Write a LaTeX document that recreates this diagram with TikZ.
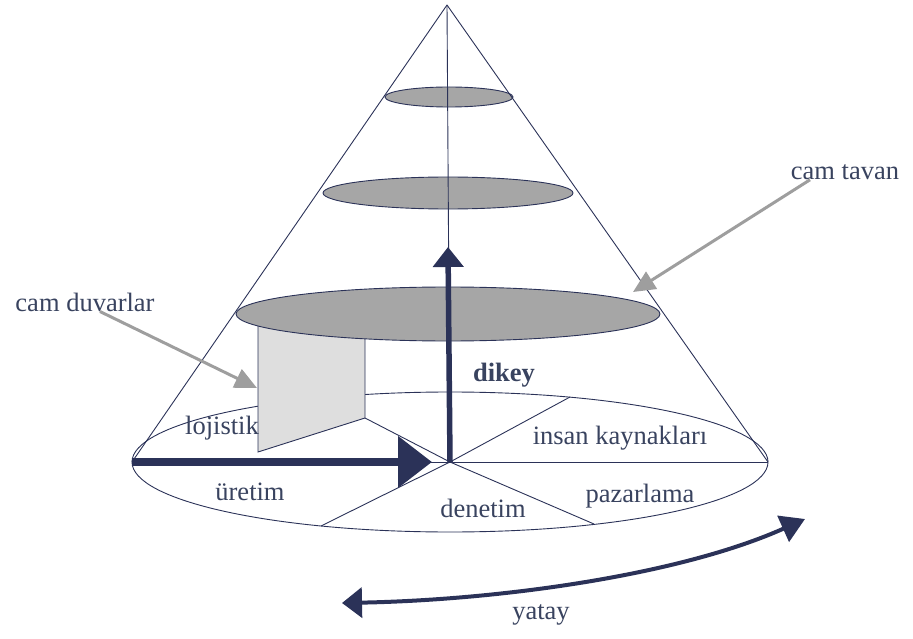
\documentclass[tikz,border=0pt]{standalone}
\usepackage{fontspec}
\setmainfont{Liberation Serif}
\usetikzlibrary{arrows.meta}
\definecolor{navy}{HTML}{2B3258}
\definecolor{inkblue}{HTML}{39435F}
\tikzset{thinline/.style={draw=navy,line width=0.9pt},
  slab/.style={thinline,fill=black!35},
  glasswall/.style={thinline,fill=black!13},
  bigarrow/.style={draw=navy,line width=5.5pt,-{Triangle[length=20pt,width=30pt]}},
  harrow/.style={bigarrow,line width=8pt,-{Triangle[length=34pt,width=50pt]}},
  yatayarrow/.style={draw=navy,line width=4pt,
    {Triangle[length=20pt,width=30pt]}-{Triangle[length=24pt,width=28pt]}},
  grayarrow/.style={draw=black!38,line width=3pt,-{Triangle[length=22pt,width=20pt]}},
  lbl/.style={text=inkblue,font=\fontsize{26.5}{30}\selectfont,inner sep=0pt},
}
\begin{document}
\begin{tikzpicture}[x=1pt,y=-1pt]
  \useasboundingbox (0,0) rectangle (913,639);
  \coordinate (apex) at (447,5);
  \coordinate (O) at (450,462);
  \coordinate (L) at (132,462);
  \coordinate (R) at (768,462);
  \coordinate (back) at (570,397);
  \coordinate (lowl) at (321,526);
  \coordinate (lowr) at (594,524);
  % base and sectors
  \draw[thinline] (O) ellipse [x radius=318pt,y radius=70pt];
  \draw[thinline] (L) -- (R);
  \draw[thinline] (O) -- (back);
  \draw[thinline] (O) -- (lowl);
  \draw[thinline] (O) -- (lowr);
  % glass wall
  \coordinate (w1) at (258,325);
  \coordinate (w2) at (258,452);
  \coordinate (w3) at (365,418);
  \coordinate (w4) at (365,330);
  \draw[glasswall] (w1) -- (w2) -- (w3) -- (w4) -- cycle;
  \draw[thinline] (w3) -- (O);
  % levels
  \draw[slab] (448,314) ellipse [x radius=212pt,y radius=27pt];
  \draw[slab] (448,193) ellipse [x radius=125pt,y radius=16pt];
  \draw[slab] (449,97) ellipse [x radius=64pt,y radius=10pt];
  \draw[thinline] (apex) -- (O);
  \draw[thinline] (apex) -- (L);
  \draw[thinline] (apex) -- (R);
  % axes
  \coordinate (dtip) at (448,247);
  \draw[bigarrow] (O) -- (dtip);
  \draw[harrow,shorten >=18pt] (L) -- (O);
  \coordinate (yl) at (342,603);
  \coordinate (yr) at (805,519);
  \draw[yatayarrow] (yl) .. controls (500,600) and (680,575) .. (yr);
  % labels
  \node[lbl] (camduvar) at (85,302) {cam duvarlar};
  \node[lbl] (camtavan) at (845,172) {cam tavan};
  \node[lbl,font=\fontsize{26.5}{30}\selectfont\bfseries] (dikey) at (504,375) {dikey};
  \node[lbl] (lojistik) at (222,428) {lojistik};
  \node[lbl] (insan) at (620,438) {insan kaynakları};
  \node[lbl] (uretim) at (250,492) {üretim};
  \node[lbl] (denetim) at (483,508) {denetim};
  \node[lbl] (pazar) at (640,496) {pazarlama};
  \node[lbl] (yatay) at (541,615) {yatay};
  \coordinate (cdtip) at (257,388);
  \coordinate (cttip) at (633,292);
  \draw[grayarrow] ([xshift=15pt]camduvar.south) -- (cdtip);
  \draw[grayarrow] ([xshift=-35pt]camtavan.south) -- (cttip);
\end{tikzpicture}
\end{document}
